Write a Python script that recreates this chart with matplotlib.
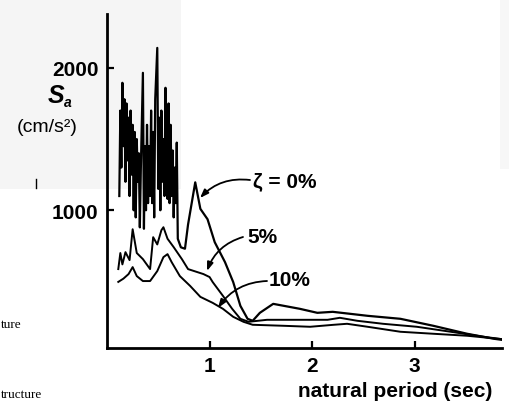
import matplotlib
matplotlib.use("Agg")
import matplotlib.pyplot as plt
from matplotlib.patches import Rectangle
from matplotlib.lines import Line2D

# ---- data (natural period T in sec, spectral acceleration Sa in cm/s^2) ----
T_0 = [0.12, 0.13, 0.14, 0.15, 0.16, 0.17, 0.18, 0.19, 0.20, 0.21, 0.22, 0.23,
       0.24, 0.25, 0.26, 0.27, 0.28, 0.29, 0.30, 0.31, 0.32, 0.33, 0.35, 0.36,
       0.37, 0.38, 0.39, 0.40, 0.41, 0.42, 0.43, 0.44, 0.45, 0.46, 0.47, 0.49,
       0.50, 0.51, 0.52, 0.53, 0.54, 0.55, 0.56, 0.57, 0.58, 0.59, 0.60, 0.61,
       0.62, 0.63, 0.64, 0.65, 0.66, 0.67, 0.68, 0.69, 0.72, 0.76, 0.79, 0.86,
       0.91, 0.98, 1.05, 1.15, 1.23, 1.30, 1.37, 1.42, 1.49, 1.62, 1.88, 2.05,
       2.20, 2.37, 2.54, 2.86, 3.18, 3.51, 3.77, 3.85]
Sa_0 = [1100, 1700, 1300, 1895, 1450, 1780, 1200, 1750, 1350, 1650, 1100, 1700,
        1250, 1600, 1000, 1550, 950, 1500, 1200, 1400, 880, 1300, 1965, 870,
        1450, 1000, 1600, 1050, 1450, 1100, 1700, 1050, 1550, 950, 1780, 2140,
        1150, 1650, 1000, 1700, 1200, 1500, 1100, 1860, 1300, 1080, 1750, 1050,
        1600, 1100, 1420, 950, 1300, 1050, 1475, 800, 740, 730, 900, 1196,
        1010, 937, 776, 636, 496, 329, 238, 224, 280, 343, 308, 280,
        287, 273, 259, 238, 189, 133, 98, 90]

T_5 = [0.11, 0.13, 0.15, 0.18, 0.22, 0.25, 0.29, 0.35, 0.42, 0.45, 0.49, 0.53,
       0.55, 0.59, 0.65, 0.73, 0.79, 0.88, 0.94, 1.00, 1.03, 1.13, 1.22, 1.30,
       1.38, 1.56, 1.88, 2.15, 2.27, 2.44, 2.69, 3.02, 3.35, 3.67, 3.85]
Sa_5 = [587, 700, 620, 706, 650, 867, 700, 657, 587, 811, 760, 860,
        881, 800, 741, 657, 587, 566, 552, 531, 496, 399, 308, 238,
        217, 231, 231, 231, 245, 224, 203, 182, 147, 112, 95]

T_10 = [0.11, 0.16, 0.21, 0.25, 0.29, 0.35, 0.42, 0.49, 0.55, 0.59, 0.63, 0.71,
        0.81, 0.91, 1.03, 1.13, 1.23, 1.33, 1.42, 1.72, 1.98, 2.21, 2.34, 2.54,
        2.86, 3.18, 3.51, 3.81, 3.85]
Sa_10 = [497, 520, 552, 601, 538, 503, 503, 573, 671, 692, 636, 538,
         469, 392, 350, 308, 252, 217, 196, 189, 182, 196, 203, 182,
         147, 133, 119, 98, 95]

x_ticks = [1, 2, 3]
y_ticks = [1000, 2000]
labels = ["\u03b6 = 0%", "5%", "10%"]

W, H = 510, 410
fig = plt.figure(figsize=(W / 100, H / 100), dpi=100)

def fx(px):
    return px / W

def fy(py):
    return 1 - py / H

# faint grey scan panels
fig.patches.append(Rectangle((0, fy(190)), fx(181), 190 / H, transform=fig.transFigure,
                             facecolor="#f5f5f5", edgecolor="none", zorder=-10))
fig.patches.append(Rectangle((fx(500), fy(170)), fx(10), 170 / H, transform=fig.transFigure,
                             facecolor="#f7f7f7", edgecolor="none", zorder=-10))

ax = fig.add_axes([fx(107), fy(349), fx(502) - fx(107), fy(15) - fy(349)])
ax.patch.set_alpha(0)

ax.plot(T_0, Sa_0, color="black", lw=1.6)
ax.plot(T_5, Sa_5, color="black", lw=1.4)
ax.plot(T_10, Sa_10, color="black", lw=1.4)

ax.set_xlim(0, 3.85)
ax.set_ylim(33, 2378)
for s in ["top", "right"]:
    ax.spines[s].set_visible(False)
for s in ["left", "bottom"]:
    ax.spines[s].set_linewidth(2.0)

ax.set_xticks(x_ticks)
ax.set_xticklabels([str(v) for v in x_ticks])
ax.set_yticks(y_ticks)
ax.set_yticklabels([str(v) for v in y_ticks])
for lab in ax.get_xticklabels() + ax.get_yticklabels():
    lab.set_fontfamily("Liberation Sans")
    lab.set_fontweight("bold")
    lab.set_fontsize(15)
ax.tick_params(axis="both", direction="in", length=5, width=1.6, pad=6)

# axis labels
fig.text(fx(395), fy(392), "natural period (sec)", ha="center", va="center",
         family="Liberation Sans", weight="bold", fontsize=15)
fig.text(fx(56), fy(96), "S", ha="center", va="center", family="Liberation Sans",
         style="italic", weight="bold", fontsize=18)
fig.text(fx(68), fy(103), "a", ha="center", va="center", family="Liberation Sans",
         style="italic", weight="bold", fontsize=10)
fig.text(fx(47), fy(128), "(cm/s\u00b2)", ha="center", va="center",
         family="Liberation Sans", fontsize=14)
fig.add_artist(Line2D([fx(36), fx(36)], [fy(180), fy(189)], transform=fig.transFigure,
                      color="black", lw=1.0))

# cropped remnants of neighbouring text
fig.text(fx(1), fy(325), "ture", ha="left", va="center", family="Liberation Serif", fontsize=9.5)
fig.text(fx(1), fy(395), "tructure", ha="left", va="center", family="Liberation Serif", fontsize=9.5)

# curve labels with arrows
def px_to_data(px, py):
    return ax.transData.inverted().transform(fig.transFigure.transform((fx(px), fy(py))))

label_pos = [(285, 182), (262, 238), (290, 281)]
arrow_start = [(250, 181), (243, 238), (267, 282)]
arrow_end = [(200, 199), (207, 272), (218, 309)]
for lab, lp, a0, a1 in zip(labels, label_pos, arrow_start, arrow_end):
    fig.text(fx(lp[0]), fy(lp[1]), lab, ha="center", va="center",
             family="Liberation Sans", weight="bold", fontsize=15)
    ax.annotate("", xy=px_to_data(*a1), xytext=px_to_data(*a0),
                arrowprops=dict(arrowstyle="-|>,head_length=0.5,head_width=0.18",
                                color="black", lw=1.3,
                                connectionstyle="arc3,rad=0.25",
                                shrinkA=0, shrinkB=0))

fig.savefig("out.png", dpi=100)
